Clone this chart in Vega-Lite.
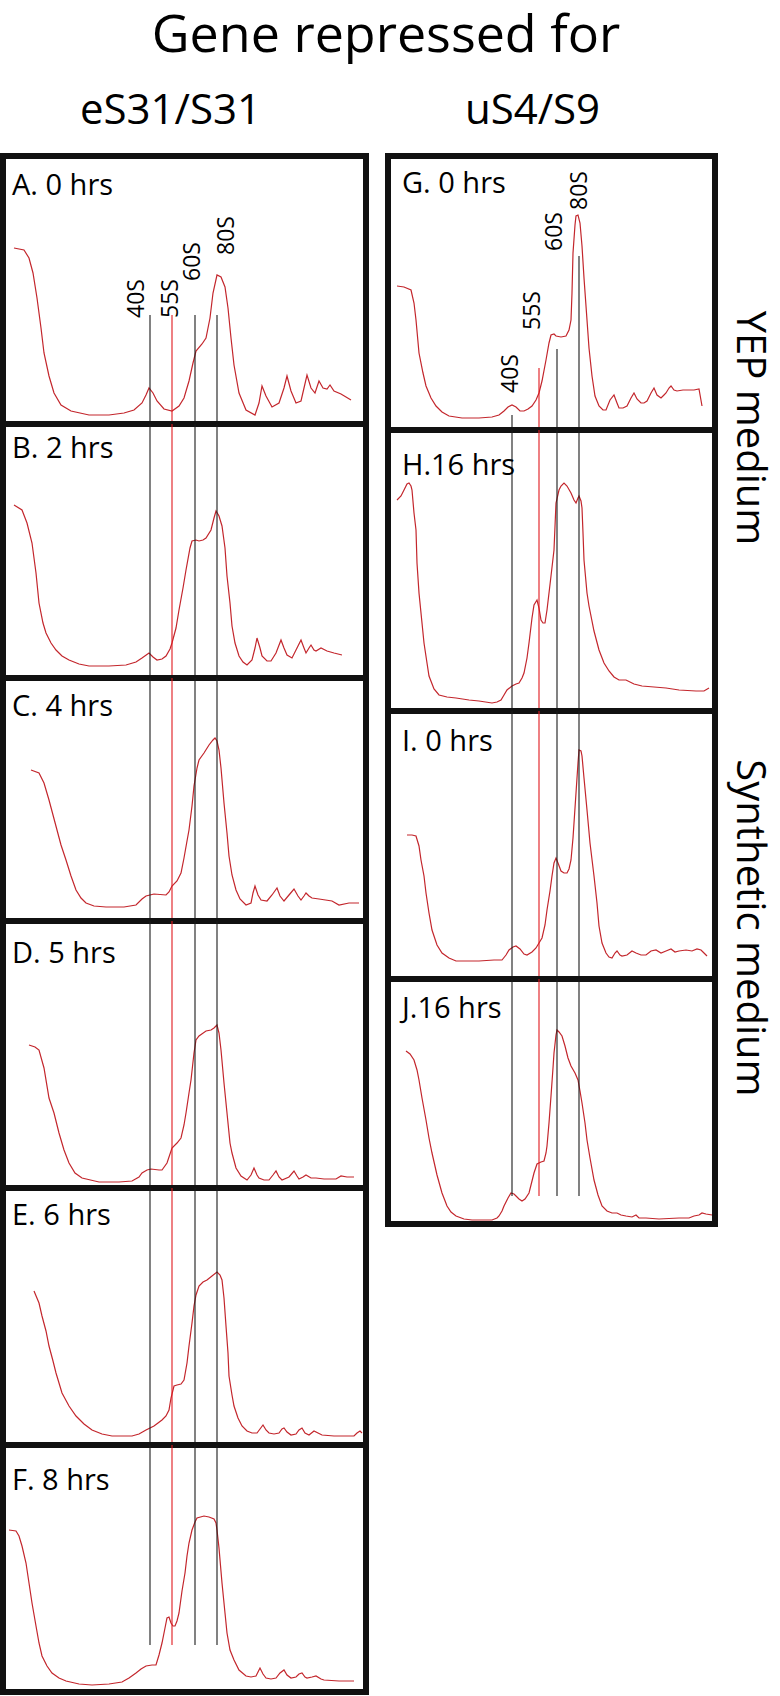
{
"$schema":"https://vega.github.io/schema/vega-lite/v6.json",
"padding":{"left":0,"top":10,"right":0,"bottom":0},
"background":"white",
"title":{"text":"Gene repressed for","fontSize":52,"anchor":"middle","offset":27},
"config":{"view":{"stroke":"#111","strokeWidth":6},"axis":{"disable":true},"legend":{"disable":true},"font":"Open Sans","title":{"fontWeight":"normal","color":"#000","font":"Open Sans"},"text":{"font":"Open Sans"}},
"datasets":{
"panels":[
{"panel":"A","label":"A. 0 hrs"},{"panel":"B","label":"B. 2 hrs"},{"panel":"C","label":"C. 4 hrs"},{"panel":"D","label":"D. 5 hrs"},{"panel":"E","label":"E. 6 hrs"},{"panel":"F","label":"F. 8 hrs"},
{"panel":"G","label":"G. 0 hrs"},{"panel":"H","label":"H.16 hrs"},{"panel":"I","label":"I. 0 hrs"},{"panel":"J","label":"J.16 hrs"}],
"media":[{"medium":"YEP medium"},{"medium":"Synthetic medium"}],
"markers":[
{"column":"eS31/S31","fraction":"40S","pos":147,"lx":133.5,"ly":106,"top":109},
{"column":"eS31/S31","fraction":"55S","pos":169,"lx":168,"ly":106,"top":109},
{"column":"eS31/S31","fraction":"60S","pos":192,"lx":190,"ly":143,"top":109},
{"column":"eS31/S31","fraction":"80S","pos":214,"lx":224,"ly":169,"top":109},
{"column":"uS4/S9","fraction":"40S","pos":124,"lx":123,"ly":37,"top":15},
{"column":"uS4/S9","fraction":"55S","pos":151,"lx":145,"ly":100,"top":62},
{"column":"uS4/S9","fraction":"60S","pos":169,"lx":167,"ly":179,"top":81},
{"column":"uS4/S9","fraction":"80S","pos":191,"lx":192,"ly":220,"top":174}],
"curves":[
{"panel":"A","pos":11,"abs":176},{"panel":"A","pos":21,"abs":174},{"panel":"A","pos":26,"abs":166},{"panel":"A","pos":30,"abs":151},{"panel":"A","pos":34,"abs":126},{"panel":"A","pos":38,"abs":96},{"panel":"A","pos":41,"abs":71},{"panel":"A","pos":46,"abs":48},{"panel":"A","pos":51,"abs":31},{"panel":"A","pos":58,"abs":19},{"panel":"A","pos":68,"abs":13},{"panel":"A","pos":86,"abs":9},{"panel":"A","pos":106,"abs":9},{"panel":"A","pos":121,"abs":11},{"panel":"A","pos":131,"abs":14},{"panel":"A","pos":139,"abs":21},{"panel":"A","pos":143,"abs":29},{"panel":"A","pos":146,"abs":36},{"panel":"A","pos":150,"abs":31},{"panel":"A","pos":154,"abs":23},{"panel":"A","pos":161,"abs":15},{"panel":"A","pos":169,"abs":13},{"panel":"A","pos":176,"abs":18},{"panel":"A","pos":181,"abs":26},{"panel":"A","pos":186,"abs":43},{"panel":"A","pos":190,"abs":61},{"panel":"A","pos":193,"abs":73},{"panel":"A","pos":199,"abs":80},{"panel":"A","pos":203,"abs":86},{"panel":"A","pos":207,"abs":106},{"panel":"A","pos":210,"abs":131},{"panel":"A","pos":214,"abs":149},{"panel":"A","pos":218,"abs":147},{"panel":"A","pos":222,"abs":137},{"panel":"A","pos":225,"abs":116},{"panel":"A","pos":228,"abs":86},{"panel":"A","pos":231,"abs":59},{"panel":"A","pos":236,"abs":31},{"panel":"A","pos":243,"abs":14},{"panel":"A","pos":252,"abs":9},{"panel":"A","pos":256,"abs":21},{"panel":"A","pos":259,"abs":38},{"panel":"A","pos":263,"abs":28},{"panel":"A","pos":269,"abs":17},{"panel":"A","pos":276,"abs":21},{"panel":"A","pos":281,"abs":36},{"panel":"A","pos":284,"abs":48},{"panel":"A","pos":288,"abs":33},{"panel":"A","pos":293,"abs":21},{"panel":"A","pos":298,"abs":23},{"panel":"A","pos":301,"abs":36},{"panel":"A","pos":304,"abs":49},{"panel":"A","pos":308,"abs":36},{"panel":"A","pos":312,"abs":31},{"panel":"A","pos":316,"abs":43},{"panel":"A","pos":320,"abs":36},{"panel":"A","pos":324,"abs":35},{"panel":"A","pos":327,"abs":39},{"panel":"A","pos":331,"abs":33},{"panel":"A","pos":338,"abs":30},{"panel":"A","pos":348,"abs":24},
{"panel":"B","pos":11,"abs":173},{"panel":"B","pos":19,"abs":168},{"panel":"B","pos":24,"abs":155},{"panel":"B","pos":29,"abs":135},{"panel":"B","pos":33,"abs":105},{"panel":"B","pos":36,"abs":75},{"panel":"B","pos":40,"abs":55},{"panel":"B","pos":43,"abs":45},{"panel":"B","pos":48,"abs":35},{"panel":"B","pos":53,"abs":28},{"panel":"B","pos":59,"abs":22},{"panel":"B","pos":66,"abs":18},{"panel":"B","pos":76,"abs":14},{"panel":"B","pos":86,"abs":12},{"panel":"B","pos":106,"abs":12},{"panel":"B","pos":123,"abs":13},{"panel":"B","pos":133,"abs":16},{"panel":"B","pos":139,"abs":20},{"panel":"B","pos":146,"abs":25},{"panel":"B","pos":150,"abs":21},{"panel":"B","pos":154,"abs":18},{"panel":"B","pos":159,"abs":19},{"panel":"B","pos":163,"abs":22},{"panel":"B","pos":167,"abs":29},{"panel":"B","pos":169,"abs":35},{"panel":"B","pos":173,"abs":50},{"panel":"B","pos":176,"abs":68},{"panel":"B","pos":180,"abs":90},{"panel":"B","pos":183,"abs":108},{"panel":"B","pos":187,"abs":130},{"panel":"B","pos":189,"abs":137},{"panel":"B","pos":193,"abs":138},{"panel":"B","pos":196,"abs":137},{"panel":"B","pos":200,"abs":138},{"panel":"B","pos":203,"abs":140},{"panel":"B","pos":208,"abs":148},{"panel":"B","pos":211,"abs":160},{"panel":"B","pos":213,"abs":167},{"panel":"B","pos":216,"abs":162},{"panel":"B","pos":219,"abs":152},{"panel":"B","pos":222,"abs":130},{"panel":"B","pos":224,"abs":102},{"panel":"B","pos":227,"abs":75},{"panel":"B","pos":229,"abs":52},{"panel":"B","pos":232,"abs":35},{"panel":"B","pos":236,"abs":22},{"panel":"B","pos":240,"abs":16},{"panel":"B","pos":244,"abs":13},{"panel":"B","pos":249,"abs":18},{"panel":"B","pos":252,"abs":30},{"panel":"B","pos":254,"abs":40},{"panel":"B","pos":257,"abs":30},{"panel":"B","pos":259,"abs":22},{"panel":"B","pos":264,"abs":17},{"panel":"B","pos":268,"abs":17},{"panel":"B","pos":273,"abs":25},{"panel":"B","pos":278,"abs":38},{"panel":"B","pos":281,"abs":30},{"panel":"B","pos":284,"abs":23},{"panel":"B","pos":289,"abs":20},{"panel":"B","pos":294,"abs":30},{"panel":"B","pos":298,"abs":38},{"panel":"B","pos":301,"abs":30},{"panel":"B","pos":303,"abs":25},{"panel":"B","pos":306,"abs":30},{"panel":"B","pos":308,"abs":33},{"panel":"B","pos":311,"abs":28},{"panel":"B","pos":313,"abs":27},{"panel":"B","pos":318,"abs":30},{"panel":"B","pos":324,"abs":27},{"panel":"B","pos":331,"abs":25},{"panel":"B","pos":339,"abs":23},
{"panel":"C","pos":28,"abs":151},{"panel":"C","pos":36,"abs":148},{"panel":"C","pos":41,"abs":138},{"panel":"C","pos":46,"abs":121},{"panel":"C","pos":50,"abs":106},{"panel":"C","pos":54,"abs":91},{"panel":"C","pos":58,"abs":76},{"panel":"C","pos":63,"abs":61},{"panel":"C","pos":68,"abs":45},{"panel":"C","pos":73,"abs":31},{"panel":"C","pos":78,"abs":23},{"panel":"C","pos":83,"abs":18},{"panel":"C","pos":91,"abs":15},{"panel":"C","pos":103,"abs":14},{"panel":"C","pos":121,"abs":14},{"panel":"C","pos":133,"abs":16},{"panel":"C","pos":139,"abs":22},{"panel":"C","pos":143,"abs":25},{"panel":"C","pos":151,"abs":27},{"panel":"C","pos":163,"abs":26},{"panel":"C","pos":166,"abs":29},{"panel":"C","pos":169,"abs":35},{"panel":"C","pos":174,"abs":40},{"panel":"C","pos":178,"abs":48},{"panel":"C","pos":181,"abs":63},{"panel":"C","pos":184,"abs":80},{"panel":"C","pos":186,"abs":91},{"panel":"C","pos":189,"abs":115},{"panel":"C","pos":191,"abs":135},{"panel":"C","pos":194,"abs":153},{"panel":"C","pos":196,"abs":161},{"panel":"C","pos":201,"abs":168},{"panel":"C","pos":206,"abs":176},{"panel":"C","pos":210,"abs":181},{"panel":"C","pos":212,"abs":183},{"panel":"C","pos":214,"abs":180},{"panel":"C","pos":216,"abs":171},{"panel":"C","pos":218,"abs":153},{"panel":"C","pos":221,"abs":118},{"panel":"C","pos":224,"abs":88},{"panel":"C","pos":226,"abs":65},{"panel":"C","pos":229,"abs":46},{"panel":"C","pos":233,"abs":31},{"panel":"C","pos":237,"abs":22},{"panel":"C","pos":243,"abs":16},{"panel":"C","pos":248,"abs":18},{"panel":"C","pos":250,"abs":28},{"panel":"C","pos":252,"abs":35},{"panel":"C","pos":255,"abs":26},{"panel":"C","pos":258,"abs":21},{"panel":"C","pos":264,"abs":20},{"panel":"C","pos":269,"abs":26},{"panel":"C","pos":274,"abs":33},{"panel":"C","pos":277,"abs":25},{"panel":"C","pos":281,"abs":20},{"panel":"C","pos":286,"abs":26},{"panel":"C","pos":291,"abs":32},{"panel":"C","pos":295,"abs":25},{"panel":"C","pos":298,"abs":21},{"panel":"C","pos":301,"abs":25},{"panel":"C","pos":303,"abs":28},{"panel":"C","pos":306,"abs":25},{"panel":"C","pos":309,"abs":23},{"panel":"C","pos":316,"abs":22},{"panel":"C","pos":329,"abs":20},{"panel":"C","pos":336,"abs":16},{"panel":"C","pos":346,"abs":18},{"panel":"C","pos":356,"abs":18},
{"panel":"D","pos":26,"abs":143},{"panel":"D","pos":32,"abs":141},{"panel":"D","pos":36,"abs":138},{"panel":"D","pos":41,"abs":120},{"panel":"D","pos":46,"abs":90},{"panel":"D","pos":51,"abs":75},{"panel":"D","pos":56,"abs":55},{"panel":"D","pos":61,"abs":38},{"panel":"D","pos":66,"abs":25},{"panel":"D","pos":72,"abs":15},{"panel":"D","pos":79,"abs":10},{"panel":"D","pos":96,"abs":6},{"panel":"D","pos":116,"abs":6},{"panel":"D","pos":129,"abs":7},{"panel":"D","pos":136,"abs":11},{"panel":"D","pos":139,"abs":15},{"panel":"D","pos":144,"abs":18},{"panel":"D","pos":148,"abs":19},{"panel":"D","pos":156,"abs":18},{"panel":"D","pos":159,"abs":18},{"panel":"D","pos":164,"abs":25},{"panel":"D","pos":169,"abs":40},{"panel":"D","pos":174,"abs":45},{"panel":"D","pos":178,"abs":50},{"panel":"D","pos":181,"abs":63},{"panel":"D","pos":183,"abs":75},{"panel":"D","pos":186,"abs":95},{"panel":"D","pos":188,"abs":108},{"panel":"D","pos":191,"abs":135},{"panel":"D","pos":193,"abs":148},{"panel":"D","pos":196,"abs":152},{"panel":"D","pos":203,"abs":157},{"panel":"D","pos":208,"abs":158},{"panel":"D","pos":211,"abs":160},{"panel":"D","pos":214,"abs":163},{"panel":"D","pos":216,"abs":155},{"panel":"D","pos":218,"abs":138},{"panel":"D","pos":221,"abs":105},{"panel":"D","pos":224,"abs":75},{"panel":"D","pos":227,"abs":45},{"panel":"D","pos":229,"abs":35},{"panel":"D","pos":233,"abs":20},{"panel":"D","pos":238,"abs":12},{"panel":"D","pos":244,"abs":8},{"panel":"D","pos":248,"abs":13},{"panel":"D","pos":251,"abs":20},{"panel":"D","pos":254,"abs":13},{"panel":"D","pos":256,"abs":10},{"panel":"D","pos":261,"abs":8},{"panel":"D","pos":266,"abs":8},{"panel":"D","pos":270,"abs":13},{"panel":"D","pos":273,"abs":17},{"panel":"D","pos":276,"abs":11},{"panel":"D","pos":279,"abs":8},{"panel":"D","pos":286,"abs":11},{"panel":"D","pos":291,"abs":17},{"panel":"D","pos":294,"abs":12},{"panel":"D","pos":296,"abs":9},{"panel":"D","pos":300,"abs":11},{"panel":"D","pos":303,"abs":13},{"panel":"D","pos":308,"abs":10},{"panel":"D","pos":313,"abs":10},{"panel":"D","pos":321,"abs":9},{"panel":"D","pos":333,"abs":9},{"panel":"D","pos":338,"abs":12},{"panel":"D","pos":344,"abs":11},{"panel":"D","pos":351,"abs":11},
{"panel":"E","pos":31,"abs":154},{"panel":"E","pos":36,"abs":142},{"panel":"E","pos":39,"abs":129},{"panel":"E","pos":43,"abs":114},{"panel":"E","pos":46,"abs":99},{"panel":"E","pos":50,"abs":84},{"panel":"E","pos":53,"abs":72},{"panel":"E","pos":59,"abs":52},{"panel":"E","pos":66,"abs":39},{"panel":"E","pos":73,"abs":29},{"panel":"E","pos":81,"abs":21},{"panel":"E","pos":89,"abs":15},{"panel":"E","pos":99,"abs":11},{"panel":"E","pos":109,"abs":9},{"panel":"E","pos":129,"abs":9},{"panel":"E","pos":136,"abs":11},{"panel":"E","pos":143,"abs":15},{"panel":"E","pos":151,"abs":19},{"panel":"E","pos":159,"abs":25},{"panel":"E","pos":163,"abs":29},{"panel":"E","pos":166,"abs":35},{"panel":"E","pos":168,"abs":47},{"panel":"E","pos":171,"abs":59},{"panel":"E","pos":174,"abs":60},{"panel":"E","pos":178,"abs":61},{"panel":"E","pos":181,"abs":65},{"panel":"E","pos":184,"abs":82},{"panel":"E","pos":186,"abs":99},{"panel":"E","pos":189,"abs":122},{"panel":"E","pos":191,"abs":139},{"panel":"E","pos":193,"abs":150},{"panel":"E","pos":196,"abs":159},{"panel":"E","pos":200,"abs":163},{"panel":"E","pos":204,"abs":165},{"panel":"E","pos":209,"abs":169},{"panel":"E","pos":214,"abs":173},{"panel":"E","pos":217,"abs":170},{"panel":"E","pos":219,"abs":165},{"panel":"E","pos":221,"abs":147},{"panel":"E","pos":223,"abs":119},{"panel":"E","pos":225,"abs":92},{"panel":"E","pos":226,"abs":69},{"panel":"E","pos":229,"abs":50},{"panel":"E","pos":231,"abs":39},{"panel":"E","pos":235,"abs":27},{"panel":"E","pos":239,"abs":19},{"panel":"E","pos":244,"abs":14},{"panel":"E","pos":249,"abs":12},{"panel":"E","pos":254,"abs":12},{"panel":"E","pos":257,"abs":16},{"panel":"E","pos":260,"abs":20},{"panel":"E","pos":263,"abs":15},{"panel":"E","pos":266,"abs":12},{"panel":"E","pos":271,"abs":11},{"panel":"E","pos":276,"abs":12},{"panel":"E","pos":279,"abs":16},{"panel":"E","pos":281,"abs":17},{"panel":"E","pos":284,"abs":13},{"panel":"E","pos":288,"abs":10},{"panel":"E","pos":293,"abs":11},{"panel":"E","pos":296,"abs":15},{"panel":"E","pos":299,"abs":17},{"panel":"E","pos":302,"abs":12},{"panel":"E","pos":306,"abs":10},{"panel":"E","pos":311,"abs":14},{"panel":"E","pos":315,"abs":12},{"panel":"E","pos":319,"abs":10},{"panel":"E","pos":331,"abs":9},{"panel":"E","pos":343,"abs":9},{"panel":"E","pos":351,"abs":9},{"panel":"E","pos":354,"abs":12},{"panel":"E","pos":357,"abs":14},{"panel":"E","pos":359,"abs":12},
{"panel":"F","pos":6,"abs":162},{"panel":"F","pos":13,"abs":161},{"panel":"F","pos":16,"abs":156},{"panel":"F","pos":19,"abs":146},{"panel":"F","pos":23,"abs":129},{"panel":"F","pos":26,"abs":109},{"panel":"F","pos":29,"abs":89},{"panel":"F","pos":33,"abs":66},{"panel":"F","pos":36,"abs":49},{"panel":"F","pos":39,"abs":36},{"panel":"F","pos":44,"abs":26},{"panel":"F","pos":49,"abs":19},{"panel":"F","pos":56,"abs":14},{"panel":"F","pos":63,"abs":11},{"panel":"F","pos":76,"abs":8},{"panel":"F","pos":89,"abs":7},{"panel":"F","pos":106,"abs":8},{"panel":"F","pos":119,"abs":10},{"panel":"F","pos":126,"abs":14},{"panel":"F","pos":133,"abs":19},{"panel":"F","pos":138,"abs":23},{"panel":"F","pos":143,"abs":26},{"panel":"F","pos":149,"abs":27},{"panel":"F","pos":153,"abs":27},{"panel":"F","pos":156,"abs":37},{"panel":"F","pos":159,"abs":49},{"panel":"F","pos":162,"abs":64},{"panel":"F","pos":164,"abs":74},{"panel":"F","pos":166,"abs":75},{"panel":"F","pos":168,"abs":69},{"panel":"F","pos":170,"abs":66},{"panel":"F","pos":172,"abs":66},{"panel":"F","pos":174,"abs":71},{"panel":"F","pos":176,"abs":79},{"panel":"F","pos":179,"abs":101},{"panel":"F","pos":182,"abs":119},{"panel":"F","pos":184,"abs":136},{"panel":"F","pos":186,"abs":149},{"panel":"F","pos":189,"abs":162},{"panel":"F","pos":192,"abs":170},{"panel":"F","pos":194,"abs":174},{"panel":"F","pos":201,"abs":176},{"panel":"F","pos":206,"abs":175},{"panel":"F","pos":211,"abs":173},{"panel":"F","pos":213,"abs":169},{"panel":"F","pos":214,"abs":162},{"panel":"F","pos":216,"abs":144},{"panel":"F","pos":219,"abs":109},{"panel":"F","pos":222,"abs":79},{"panel":"F","pos":224,"abs":59},{"panel":"F","pos":227,"abs":42},{"panel":"F","pos":231,"abs":32},{"panel":"F","pos":236,"abs":22},{"panel":"F","pos":243,"abs":16},{"panel":"F","pos":248,"abs":15},{"panel":"F","pos":253,"abs":16},{"panel":"F","pos":255,"abs":20},{"panel":"F","pos":257,"abs":24},{"panel":"F","pos":260,"abs":18},{"panel":"F","pos":263,"abs":14},{"panel":"F","pos":268,"abs":13},{"panel":"F","pos":273,"abs":14},{"panel":"F","pos":277,"abs":19},{"panel":"F","pos":281,"abs":22},{"panel":"F","pos":284,"abs":17},{"panel":"F","pos":288,"abs":14},{"panel":"F","pos":293,"abs":15},{"panel":"F","pos":296,"abs":18},{"panel":"F","pos":299,"abs":19},{"panel":"F","pos":302,"abs":15},{"panel":"F","pos":304,"abs":14},{"panel":"F","pos":309,"abs":15},{"panel":"F","pos":313,"abs":16},{"panel":"F","pos":318,"abs":13},{"panel":"F","pos":321,"abs":12},{"panel":"F","pos":336,"abs":11},{"panel":"F","pos":351,"abs":11},
{"panel":"G","pos":9,"abs":144},{"panel":"G","pos":16,"abs":143},{"panel":"G","pos":23,"abs":140},{"panel":"G","pos":26,"abs":127},{"panel":"G","pos":28,"abs":110},{"panel":"G","pos":31,"abs":77},{"panel":"G","pos":35,"abs":57},{"panel":"G","pos":38,"abs":44},{"panel":"G","pos":43,"abs":32},{"panel":"G","pos":48,"abs":24},{"panel":"G","pos":54,"abs":18},{"panel":"G","pos":61,"abs":14},{"panel":"G","pos":74,"abs":12},{"panel":"G","pos":91,"abs":12},{"panel":"G","pos":104,"abs":13},{"panel":"G","pos":111,"abs":15},{"panel":"G","pos":116,"abs":19},{"panel":"G","pos":120,"abs":23},{"panel":"G","pos":124,"abs":25},{"panel":"G","pos":128,"abs":23},{"panel":"G","pos":132,"abs":19},{"panel":"G","pos":136,"abs":19},{"panel":"G","pos":140,"abs":21},{"panel":"G","pos":144,"abs":24},{"panel":"G","pos":148,"abs":30},{"panel":"G","pos":151,"abs":37},{"panel":"G","pos":154,"abs":49},{"panel":"G","pos":158,"abs":70},{"panel":"G","pos":161,"abs":87},{"panel":"G","pos":163,"abs":95},{"panel":"G","pos":166,"abs":96},{"panel":"G","pos":168,"abs":94},{"panel":"G","pos":173,"abs":93},{"panel":"G","pos":178,"abs":94},{"panel":"G","pos":181,"abs":100},{"panel":"G","pos":183,"abs":110},{"panel":"G","pos":184,"abs":137},{"panel":"G","pos":185,"abs":177},{"panel":"G","pos":187,"abs":205},{"panel":"G","pos":188,"abs":214},{"panel":"G","pos":190,"abs":215},{"panel":"G","pos":192,"abs":207},{"panel":"G","pos":194,"abs":184},{"panel":"G","pos":196,"abs":152},{"panel":"G","pos":199,"abs":110},{"panel":"G","pos":201,"abs":82},{"panel":"G","pos":204,"abs":54},{"panel":"G","pos":207,"abs":34},{"panel":"G","pos":211,"abs":24},{"panel":"G","pos":215,"abs":20},{"panel":"G","pos":218,"abs":20},{"panel":"G","pos":222,"abs":30},{"panel":"G","pos":226,"abs":35},{"panel":"G","pos":229,"abs":27},{"panel":"G","pos":231,"abs":22},{"panel":"G","pos":235,"abs":22},{"panel":"G","pos":239,"abs":24},{"panel":"G","pos":243,"abs":32},{"panel":"G","pos":246,"abs":37},{"panel":"G","pos":249,"abs":31},{"panel":"G","pos":253,"abs":27},{"panel":"G","pos":256,"abs":27},{"panel":"G","pos":259,"abs":29},{"panel":"G","pos":263,"abs":37},{"panel":"G","pos":266,"abs":42},{"panel":"G","pos":269,"abs":35},{"panel":"G","pos":273,"abs":32},{"panel":"G","pos":276,"abs":35},{"panel":"G","pos":278,"abs":37},{"panel":"G","pos":281,"abs":42},{"panel":"G","pos":283,"abs":44},{"panel":"G","pos":286,"abs":40},{"panel":"G","pos":289,"abs":39},{"panel":"G","pos":295,"abs":40},{"panel":"G","pos":301,"abs":40},{"panel":"G","pos":306,"abs":40},{"panel":"G","pos":311,"abs":41},{"panel":"G","pos":314,"abs":24},
{"panel":"H","pos":9,"abs":211},{"panel":"H","pos":13,"abs":215},{"panel":"H","pos":16,"abs":221},{"panel":"H","pos":19,"abs":227},{"panel":"H","pos":21,"abs":228},{"panel":"H","pos":23,"abs":225},{"panel":"H","pos":24,"abs":221},{"panel":"H","pos":26,"abs":198},{"panel":"H","pos":28,"abs":181},{"panel":"H","pos":29,"abs":148},{"panel":"H","pos":31,"abs":118},{"panel":"H","pos":34,"abs":88},{"panel":"H","pos":36,"abs":68},{"panel":"H","pos":39,"abs":48},{"panel":"H","pos":41,"abs":35},{"panel":"H","pos":46,"abs":22},{"panel":"H","pos":51,"abs":16},{"panel":"H","pos":59,"abs":14},{"panel":"H","pos":68,"abs":13},{"panel":"H","pos":81,"abs":11},{"panel":"H","pos":91,"abs":10},{"panel":"H","pos":104,"abs":8},{"panel":"H","pos":109,"abs":9},{"panel":"H","pos":113,"abs":11},{"panel":"H","pos":116,"abs":16},{"panel":"H","pos":119,"abs":21},{"panel":"H","pos":124,"abs":25},{"panel":"H","pos":128,"abs":27},{"panel":"H","pos":131,"abs":28},{"panel":"H","pos":134,"abs":33},{"panel":"H","pos":136,"abs":38},{"panel":"H","pos":139,"abs":53},{"panel":"H","pos":141,"abs":68},{"panel":"H","pos":144,"abs":93},{"panel":"H","pos":146,"abs":106},{"panel":"H","pos":149,"abs":111},{"panel":"H","pos":151,"abs":103},{"panel":"H","pos":153,"abs":91},{"panel":"H","pos":155,"abs":88},{"panel":"H","pos":157,"abs":88},{"panel":"H","pos":159,"abs":101},{"panel":"H","pos":161,"abs":118},{"panel":"H","pos":163,"abs":135},{"panel":"H","pos":166,"abs":161},{"panel":"H","pos":168,"abs":208},{"panel":"H","pos":171,"abs":221},{"panel":"H","pos":173,"abs":225},{"panel":"H","pos":176,"abs":228},{"panel":"H","pos":179,"abs":225},{"panel":"H","pos":183,"abs":218},{"panel":"H","pos":186,"abs":211},{"panel":"H","pos":188,"abs":208},{"panel":"H","pos":190,"abs":213},{"panel":"H","pos":191,"abs":215},{"panel":"H","pos":193,"abs":210},{"panel":"H","pos":194,"abs":203},{"panel":"H","pos":195,"abs":178},{"panel":"H","pos":196,"abs":151},{"panel":"H","pos":199,"abs":118},{"panel":"H","pos":201,"abs":105},{"panel":"H","pos":206,"abs":80},{"panel":"H","pos":211,"abs":61},{"panel":"H","pos":216,"abs":48},{"panel":"H","pos":221,"abs":40},{"panel":"H","pos":226,"abs":34},{"panel":"H","pos":231,"abs":31},{"panel":"H","pos":238,"abs":31},{"panel":"H","pos":246,"abs":27},{"panel":"H","pos":254,"abs":25},{"panel":"H","pos":266,"abs":24},{"panel":"H","pos":278,"abs":23},{"panel":"H","pos":291,"abs":21},{"panel":"H","pos":308,"abs":20},{"panel":"H","pos":316,"abs":20},{"panel":"H","pos":321,"abs":23},
{"panel":"I","pos":19,"abs":144},{"panel":"I","pos":24,"abs":144},{"panel":"I","pos":28,"abs":143},{"panel":"I","pos":31,"abs":133},{"panel":"I","pos":33,"abs":119},{"panel":"I","pos":36,"abs":103},{"panel":"I","pos":38,"abs":86},{"panel":"I","pos":41,"abs":66},{"panel":"I","pos":44,"abs":49},{"panel":"I","pos":49,"abs":34},{"panel":"I","pos":54,"abs":26},{"panel":"I","pos":61,"abs":21},{"panel":"I","pos":68,"abs":18},{"panel":"I","pos":81,"abs":18},{"panel":"I","pos":91,"abs":18},{"panel":"I","pos":106,"abs":19},{"panel":"I","pos":114,"abs":19},{"panel":"I","pos":118,"abs":24},{"panel":"I","pos":121,"abs":29},{"panel":"I","pos":125,"abs":32},{"panel":"I","pos":128,"abs":33},{"panel":"I","pos":132,"abs":30},{"panel":"I","pos":136,"abs":25},{"panel":"I","pos":139,"abs":24},{"panel":"I","pos":144,"abs":27},{"panel":"I","pos":148,"abs":31},{"panel":"I","pos":151,"abs":36},{"panel":"I","pos":154,"abs":41},{"panel":"I","pos":157,"abs":54},{"panel":"I","pos":159,"abs":69},{"panel":"I","pos":162,"abs":88},{"panel":"I","pos":164,"abs":103},{"panel":"I","pos":166,"abs":116},{"panel":"I","pos":168,"abs":121},{"panel":"I","pos":170,"abs":116},{"panel":"I","pos":173,"abs":108},{"panel":"I","pos":176,"abs":106},{"panel":"I","pos":179,"abs":106},{"panel":"I","pos":181,"abs":110},{"panel":"I","pos":183,"abs":119},{"panel":"I","pos":185,"abs":141},{"panel":"I","pos":188,"abs":186},{"panel":"I","pos":190,"abs":216},{"panel":"I","pos":191,"abs":229},{"panel":"I","pos":193,"abs":228},{"panel":"I","pos":194,"abs":223},{"panel":"I","pos":196,"abs":201},{"panel":"I","pos":199,"abs":169},{"panel":"I","pos":202,"abs":136},{"panel":"I","pos":206,"abs":103},{"panel":"I","pos":209,"abs":76},{"panel":"I","pos":211,"abs":53},{"panel":"I","pos":214,"abs":36},{"panel":"I","pos":218,"abs":26},{"panel":"I","pos":221,"abs":22},{"panel":"I","pos":224,"abs":21},{"panel":"I","pos":227,"abs":26},{"panel":"I","pos":229,"abs":28},{"panel":"I","pos":232,"abs":24},{"panel":"I","pos":234,"abs":23},{"panel":"I","pos":239,"abs":24},{"panel":"I","pos":244,"abs":28},{"panel":"I","pos":248,"abs":26},{"panel":"I","pos":253,"abs":24},{"panel":"I","pos":258,"abs":24},{"panel":"I","pos":263,"abs":28},{"panel":"I","pos":268,"abs":29},{"panel":"I","pos":273,"abs":26},{"panel":"I","pos":278,"abs":28},{"panel":"I","pos":283,"abs":30},{"panel":"I","pos":287,"abs":27},{"panel":"I","pos":291,"abs":28},{"panel":"I","pos":298,"abs":29},{"panel":"I","pos":304,"abs":28},{"panel":"I","pos":309,"abs":30},{"panel":"I","pos":313,"abs":29},{"panel":"I","pos":316,"abs":26},{"panel":"I","pos":319,"abs":23},
{"panel":"J","pos":18,"abs":173},{"panel":"J","pos":22,"abs":170},{"panel":"J","pos":26,"abs":164},{"panel":"J","pos":29,"abs":154},{"panel":"J","pos":31,"abs":144},{"panel":"J","pos":34,"abs":126},{"panel":"J","pos":38,"abs":104},{"panel":"J","pos":41,"abs":86},{"panel":"J","pos":44,"abs":71},{"panel":"J","pos":49,"abs":49},{"panel":"J","pos":54,"abs":31},{"panel":"J","pos":59,"abs":18},{"panel":"J","pos":63,"abs":12},{"panel":"J","pos":68,"abs":8},{"panel":"J","pos":76,"abs":5},{"panel":"J","pos":84,"abs":4},{"panel":"J","pos":104,"abs":4},{"panel":"J","pos":109,"abs":6},{"panel":"J","pos":111,"abs":8},{"panel":"J","pos":114,"abs":13},{"panel":"J","pos":116,"abs":18},{"panel":"J","pos":120,"abs":26},{"panel":"J","pos":123,"abs":31},{"panel":"J","pos":126,"abs":30},{"panel":"J","pos":128,"abs":28},{"panel":"J","pos":131,"abs":25},{"panel":"J","pos":134,"abs":23},{"panel":"J","pos":137,"abs":25},{"panel":"J","pos":141,"abs":31},{"panel":"J","pos":144,"abs":43},{"panel":"J","pos":146,"abs":51},{"panel":"J","pos":149,"abs":60},{"panel":"J","pos":153,"abs":62},{"panel":"J","pos":156,"abs":63},{"panel":"J","pos":158,"abs":71},{"panel":"J","pos":159,"abs":78},{"panel":"J","pos":161,"abs":101},{"panel":"J","pos":163,"abs":128},{"panel":"J","pos":165,"abs":156},{"panel":"J","pos":166,"abs":171},{"panel":"J","pos":168,"abs":189},{"panel":"J","pos":169,"abs":194},{"panel":"J","pos":171,"abs":192},{"panel":"J","pos":174,"abs":188},{"panel":"J","pos":177,"abs":178},{"panel":"J","pos":180,"abs":166},{"panel":"J","pos":183,"abs":158},{"panel":"J","pos":187,"abs":151},{"panel":"J","pos":190,"abs":144},{"panel":"J","pos":192,"abs":133},{"panel":"J","pos":194,"abs":121},{"panel":"J","pos":197,"abs":101},{"panel":"J","pos":199,"abs":84},{"panel":"J","pos":202,"abs":66},{"panel":"J","pos":206,"abs":44},{"panel":"J","pos":210,"abs":29},{"panel":"J","pos":214,"abs":18},{"panel":"J","pos":219,"abs":13},{"panel":"J","pos":224,"abs":11},{"panel":"J","pos":229,"abs":11},{"panel":"J","pos":233,"abs":9},{"panel":"J","pos":238,"abs":8},{"panel":"J","pos":244,"abs":7},{"panel":"J","pos":248,"abs":9},{"panel":"J","pos":251,"abs":6},{"panel":"J","pos":258,"abs":6},{"panel":"J","pos":271,"abs":5},{"panel":"J","pos":291,"abs":6},{"panel":"J","pos":301,"abs":6},{"panel":"J","pos":306,"abs":8},{"panel":"J","pos":311,"abs":9},{"panel":"J","pos":314,"abs":11},{"panel":"J","pos":318,"abs":10},{"panel":"J","pos":324,"abs":9}
]},
"spacing":16,
"hconcat":[
{"title":{"text":"eS31/S31","fontSize":42,"anchor":"middle","dx":-14,"offset":20},
 "spacing":0,"bounds":"flush",
 "vconcat":[
  {"width":363,"height":268,"layer":[
   {"data":{"name":"curves"},"transform":[{"filter":"datum.panel==='A'"}],"mark":{"type":"line","color":"#c3262c","strokeWidth":1.2},"encoding":{"x":{"field":"pos","type":"quantitative","scale":{"domain":[0,363],"nice":false,"zero":false}},"y":{"field":"abs","type":"quantitative","scale":{"domain":[0,268],"nice":false,"zero":false}}}},
   {"data":{"name":"markers"},"transform":[{"filter":"datum.column==='eS31/S31'"}],"mark":{"type":"rule","strokeWidth":1.1},"encoding":{"x":{"field":"pos","type":"quantitative"},"y":{"field":"top","type":"quantitative"},"y2":{"datum":0},"color":{"field":"fraction","type":"nominal","scale":{"domain":["40S","55S","60S","80S"],"range":["#1a1a1a","#e0181e","#1a1a1a","#1a1a1a"]},"legend":null}}},
   {"data":{"name":"markers"},"transform":[{"filter":"datum.column==='eS31/S31'"}],"mark":{"type":"text","angle":270,"align":"left","baseline":"middle","fontSize":23,"color":"#000"},"encoding":{"x":{"field":"lx","type":"quantitative"},"y":{"field":"ly","type":"quantitative"},"text":{"field":"fraction","type":"nominal"}}},
   {"data":{"name":"panels"},"transform":[{"filter":"datum.panel==='A'"}],"mark":{"type":"text","align":"left","baseline":"alphabetic","fontSize":29,"color":"#000"},"encoding":{"x":{"datum":9,"type":"quantitative"},"y":{"datum":229,"type":"quantitative"},"text":{"field":"label","type":"nominal"}}}
  ]},
  {"width":363,"height":254,"layer":[
   {"data":{"name":"curves"},"transform":[{"filter":"datum.panel==='B'"}],"mark":{"type":"line","color":"#c3262c","strokeWidth":1.2},"encoding":{"x":{"field":"pos","type":"quantitative","scale":{"domain":[0,363],"nice":false,"zero":false}},"y":{"field":"abs","type":"quantitative","scale":{"domain":[0,254],"nice":false,"zero":false}}}},
   {"data":{"name":"markers"},"transform":[{"filter":"datum.column==='eS31/S31'"}],"mark":{"type":"rule","strokeWidth":1.1},"encoding":{"x":{"field":"pos","type":"quantitative"},"color":{"field":"fraction","type":"nominal","scale":{"domain":["40S","55S","60S","80S"],"range":["#1a1a1a","#e0181e","#1a1a1a","#1a1a1a"]},"legend":null}}},
   {"data":{"name":"panels"},"transform":[{"filter":"datum.panel==='B'"}],"mark":{"type":"text","align":"left","baseline":"alphabetic","fontSize":29,"color":"#000"},"encoding":{"x":{"datum":9,"type":"quantitative"},"y":{"datum":220,"type":"quantitative"},"text":{"field":"label","type":"nominal"}}}
  ]},
  {"width":363,"height":243,"layer":[
   {"data":{"name":"curves"},"transform":[{"filter":"datum.panel==='C'"}],"mark":{"type":"line","color":"#c3262c","strokeWidth":1.2},"encoding":{"x":{"field":"pos","type":"quantitative","scale":{"domain":[0,363],"nice":false,"zero":false}},"y":{"field":"abs","type":"quantitative","scale":{"domain":[0,243],"nice":false,"zero":false}}}},
   {"data":{"name":"markers"},"transform":[{"filter":"datum.column==='eS31/S31'"}],"mark":{"type":"rule","strokeWidth":1.1},"encoding":{"x":{"field":"pos","type":"quantitative"},"color":{"field":"fraction","type":"nominal","scale":{"domain":["40S","55S","60S","80S"],"range":["#1a1a1a","#e0181e","#1a1a1a","#1a1a1a"]},"legend":null}}},
   {"data":{"name":"panels"},"transform":[{"filter":"datum.panel==='C'"}],"mark":{"type":"text","align":"left","baseline":"alphabetic","fontSize":29,"color":"#000"},"encoding":{"x":{"datum":9,"type":"quantitative"},"y":{"datum":205,"type":"quantitative"},"text":{"field":"label","type":"nominal"}}}
  ]},
  {"width":363,"height":267,"layer":[
   {"data":{"name":"curves"},"transform":[{"filter":"datum.panel==='D'"}],"mark":{"type":"line","color":"#c3262c","strokeWidth":1.2},"encoding":{"x":{"field":"pos","type":"quantitative","scale":{"domain":[0,363],"nice":false,"zero":false}},"y":{"field":"abs","type":"quantitative","scale":{"domain":[0,267],"nice":false,"zero":false}}}},
   {"data":{"name":"markers"},"transform":[{"filter":"datum.column==='eS31/S31'"}],"mark":{"type":"rule","strokeWidth":1.1},"encoding":{"x":{"field":"pos","type":"quantitative"},"color":{"field":"fraction","type":"nominal","scale":{"domain":["40S","55S","60S","80S"],"range":["#1a1a1a","#e0181e","#1a1a1a","#1a1a1a"]},"legend":null}}},
   {"data":{"name":"panels"},"transform":[{"filter":"datum.panel==='D'"}],"mark":{"type":"text","align":"left","baseline":"alphabetic","fontSize":29,"color":"#000"},"encoding":{"x":{"datum":9,"type":"quantitative"},"y":{"datum":225,"type":"quantitative"},"text":{"field":"label","type":"nominal"}}}
  ]},
  {"width":363,"height":257,"layer":[
   {"data":{"name":"curves"},"transform":[{"filter":"datum.panel==='E'"}],"mark":{"type":"line","color":"#c3262c","strokeWidth":1.2},"encoding":{"x":{"field":"pos","type":"quantitative","scale":{"domain":[0,363],"nice":false,"zero":false}},"y":{"field":"abs","type":"quantitative","scale":{"domain":[0,257],"nice":false,"zero":false}}}},
   {"data":{"name":"markers"},"transform":[{"filter":"datum.column==='eS31/S31'"}],"mark":{"type":"rule","strokeWidth":1.1},"encoding":{"x":{"field":"pos","type":"quantitative"},"color":{"field":"fraction","type":"nominal","scale":{"domain":["40S","55S","60S","80S"],"range":["#1a1a1a","#e0181e","#1a1a1a","#1a1a1a"]},"legend":null}}},
   {"data":{"name":"panels"},"transform":[{"filter":"datum.panel==='E'"}],"mark":{"type":"text","align":"left","baseline":"alphabetic","fontSize":29,"color":"#000"},"encoding":{"x":{"datum":9,"type":"quantitative"},"y":{"datum":220,"type":"quantitative"},"text":{"field":"label","type":"nominal"}}}
  ]},
  {"width":363,"height":247,"layer":[
   {"data":{"name":"curves"},"transform":[{"filter":"datum.panel==='F'"}],"mark":{"type":"line","color":"#c3262c","strokeWidth":1.2},"encoding":{"x":{"field":"pos","type":"quantitative","scale":{"domain":[0,363],"nice":false,"zero":false}},"y":{"field":"abs","type":"quantitative","scale":{"domain":[0,247],"nice":false,"zero":false}}}},
   {"data":{"name":"markers"},"transform":[{"filter":"datum.column==='eS31/S31'"}],"mark":{"type":"rule","strokeWidth":1.1},"encoding":{"x":{"field":"pos","type":"quantitative"},"y":{"datum":47,"type":"quantitative"},"y2":{"datum":247},"color":{"field":"fraction","type":"nominal","scale":{"domain":["40S","55S","60S","80S"],"range":["#1a1a1a","#e0181e","#1a1a1a","#1a1a1a"]},"legend":null}}},
   {"data":{"name":"panels"},"transform":[{"filter":"datum.panel==='F'"}],"mark":{"type":"text","align":"left","baseline":"alphabetic","fontSize":29,"color":"#000"},"encoding":{"x":{"datum":9,"type":"quantitative"},"y":{"datum":202,"type":"quantitative"},"text":{"field":"label","type":"nominal"}}}
  ]}
 ]},
{"title":{"text":"uS4/S9","fontSize":42,"anchor":"middle","dx":-46,"offset":20},
 "spacing":0,"bounds":"flush",
 "vconcat":[
    {"width":327,"height":274,"layer":[
     {"data":{"name":"curves"},"transform":[{"filter":"datum.panel==='G'"}],"mark":{"type":"line","color":"#c3262c","strokeWidth":1.2},"encoding":{"x":{"field":"pos","type":"quantitative","scale":{"domain":[0,327],"nice":false,"zero":false}},"y":{"field":"abs","type":"quantitative","scale":{"domain":[0,274],"nice":false,"zero":false}}}},
     {"data":{"name":"markers"},"transform":[{"filter":"datum.column==='uS4/S9'"}],"mark":{"type":"rule","strokeWidth":1.1},"encoding":{"x":{"field":"pos","type":"quantitative"},"y":{"field":"top","type":"quantitative"},"y2":{"datum":0},"color":{"field":"fraction","type":"nominal","scale":{"domain":["40S","55S","60S","80S"],"range":["#1a1a1a","#e0181e","#1a1a1a","#1a1a1a"]},"legend":null}}},
     {"data":{"name":"markers"},"transform":[{"filter":"datum.column==='uS4/S9'"}],"mark":{"type":"text","angle":270,"align":"left","baseline":"middle","fontSize":23,"color":"#000"},"encoding":{"x":{"field":"lx","type":"quantitative"},"y":{"field":"ly","type":"quantitative"},"text":{"field":"fraction","type":"nominal"}}},
     {"data":{"name":"panels"},"transform":[{"filter":"datum.panel==='G'"}],"mark":{"type":"text","align":"left","baseline":"alphabetic","fontSize":29,"color":"#000"},"encoding":{"x":{"datum":14,"type":"quantitative"},"y":{"datum":237,"type":"quantitative"},"text":{"field":"label","type":"nominal"}}},
     {"data":{"name":"media"},"transform":[{"filter":"datum.medium==='YEP medium'"}],"mark":{"type":"text","angle":90,"align":"center","baseline":"middle","fontSize":40,"color":"#000"},"encoding":{"x":{"datum":361,"type":"quantitative"},"y":{"datum":2,"type":"quantitative"},"text":{"field":"medium","type":"nominal"}}}
    ]},
    {"width":327,"height":281,"layer":[
     {"data":{"name":"curves"},"transform":[{"filter":"datum.panel==='H'"}],"mark":{"type":"line","color":"#c3262c","strokeWidth":1.2},"encoding":{"x":{"field":"pos","type":"quantitative","scale":{"domain":[0,327],"nice":false,"zero":false}},"y":{"field":"abs","type":"quantitative","scale":{"domain":[0,281],"nice":false,"zero":false}}}},
     {"data":{"name":"markers"},"transform":[{"filter":"datum.column==='uS4/S9'"}],"mark":{"type":"rule","strokeWidth":1.1},"encoding":{"x":{"field":"pos","type":"quantitative"},"color":{"field":"fraction","type":"nominal","scale":{"domain":["40S","55S","60S","80S"],"range":["#1a1a1a","#e0181e","#1a1a1a","#1a1a1a"]},"legend":null}}},
     {"data":{"name":"panels"},"transform":[{"filter":"datum.panel==='H'"}],"mark":{"type":"text","align":"left","baseline":"alphabetic","fontSize":29,"color":"#000"},"encoding":{"x":{"datum":14,"type":"quantitative"},"y":{"datum":236,"type":"quantitative"},"text":{"field":"label","type":"nominal"}}}
    ]},
    {"width":327,"height":268,"layer":[
     {"data":{"name":"curves"},"transform":[{"filter":"datum.panel==='I'"}],"mark":{"type":"line","color":"#c3262c","strokeWidth":1.2},"encoding":{"x":{"field":"pos","type":"quantitative","scale":{"domain":[0,327],"nice":false,"zero":false}},"y":{"field":"abs","type":"quantitative","scale":{"domain":[0,268],"nice":false,"zero":false}}}},
     {"data":{"name":"markers"},"transform":[{"filter":"datum.column==='uS4/S9'"}],"mark":{"type":"rule","strokeWidth":1.1},"encoding":{"x":{"field":"pos","type":"quantitative"},"color":{"field":"fraction","type":"nominal","scale":{"domain":["40S","55S","60S","80S"],"range":["#1a1a1a","#e0181e","#1a1a1a","#1a1a1a"]},"legend":null}}},
     {"data":{"name":"panels"},"transform":[{"filter":"datum.panel==='I'"}],"mark":{"type":"text","align":"left","baseline":"alphabetic","fontSize":29,"color":"#000"},"encoding":{"x":{"datum":14,"type":"quantitative"},"y":{"datum":228,"type":"quantitative"},"text":{"field":"label","type":"nominal"}}},
     {"data":{"name":"media"},"transform":[{"filter":"datum.medium==='Synthetic medium'"}],"mark":{"type":"text","angle":90,"align":"center","baseline":"middle","fontSize":40,"color":"#000"},"encoding":{"x":{"datum":361,"type":"quantitative"},"y":{"datum":51,"type":"quantitative"},"text":{"field":"medium","type":"nominal"}}}
    ]},
    {"width":327,"height":245,"layer":[
     {"data":{"name":"curves"},"transform":[{"filter":"datum.panel==='J'"}],"mark":{"type":"line","color":"#c3262c","strokeWidth":1.2},"encoding":{"x":{"field":"pos","type":"quantitative","scale":{"domain":[0,327],"nice":false,"zero":false}},"y":{"field":"abs","type":"quantitative","scale":{"domain":[0,245],"nice":false,"zero":false}}}},
     {"data":{"name":"markers"},"transform":[{"filter":"datum.column==='uS4/S9'"}],"mark":{"type":"rule","strokeWidth":1.1},"encoding":{"x":{"field":"pos","type":"quantitative"},"y":{"datum":28,"type":"quantitative"},"y2":{"datum":245},"color":{"field":"fraction","type":"nominal","scale":{"domain":["40S","55S","60S","80S"],"range":["#1a1a1a","#e0181e","#1a1a1a","#1a1a1a"]},"legend":null}}},
     {"data":{"name":"panels"},"transform":[{"filter":"datum.panel==='J'"}],"mark":{"type":"text","align":"left","baseline":"alphabetic","fontSize":29,"color":"#000"},"encoding":{"x":{"datum":14,"type":"quantitative"},"y":{"datum":206,"type":"quantitative"},"text":{"field":"label","type":"nominal"}}}
    ]}
 ]}
]
}
